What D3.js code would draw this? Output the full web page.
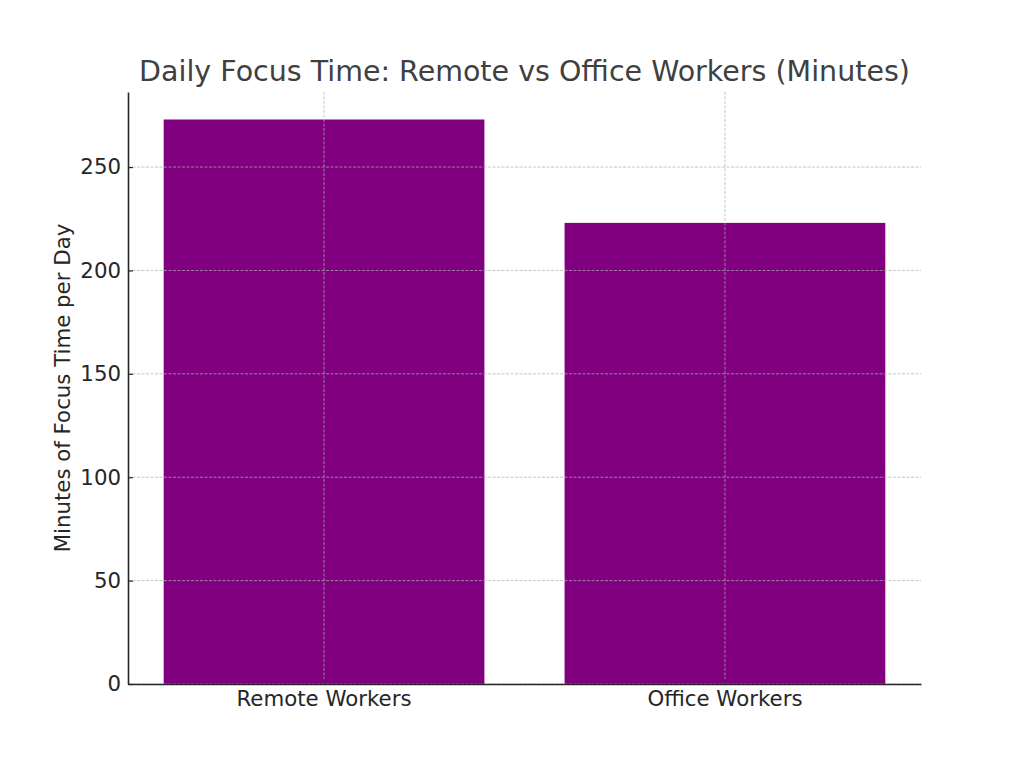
<!DOCTYPE html>
<html>
<head>
<meta charset="utf-8">
<script src="https://cdn.jsdelivr.net/npm/d3@7"></script>
<style>
  body { margin: 0; background: #fff; }
  text { font-family: "DejaVu Sans", sans-serif; }
</style>
</head>
<body>
<div id="chart"></div>
<script>
// categories and values
var categories = ["Remote Workers", "Office Workers"];
var focusMinutes = [273, 223];
var yTicks = [0, 50, 100, 150, 200, 250];

var margin = {top: 92, right: 103, bottom: 84, left: 128},
    width = 1024 - margin.left - margin.right,
    height = 768 - margin.top - margin.bottom;

var svg = d3.select("#chart")
  .append("svg")
  .attr("width", 1024)
  .attr("height", 768)
  .append("g")
  .attr("transform", "translate(" + margin.left + "," + margin.top + ")");

// x scale
var xScale = d3.scaleBand()
  .domain(categories)
  .range([0, width])
  .paddingInner(0.2)
  .paddingOuter(0.089);

// y scale
var yScale = d3.scaleLinear()
  .domain([0, 286.3])
  .range([height, 0]);

// bars
svg.append("g")
  .selectAll("rect")
  .data(categories)
  .enter()
  .append("rect")
    .attr("x", function (d) { return xScale(d); })
    .attr("y", function (d, i) { return yScale(focusMinutes[i]); })
    .attr("width", xScale.bandwidth())
    .attr("height", function (d, i) { return height - yScale(focusMinutes[i]); })
    .attr("fill", "purple");

// grid lines (drawn above bars like the original)
var grid = svg.append("g").attr("class", "grid");
grid.selectAll(".hgrid")
  .data(yTicks)
  .enter()
  .append("line")
    .attr("x1", 0)
    .attr("x2", width)
    .attr("y1", d => yScale(d))
    .attr("y2", d => yScale(d))
    .attr("stroke", "#b0b0b0")
    .attr("stroke-opacity", 0.8)
    .attr("stroke-width", 0.9)
    .attr("stroke-dasharray", "3,1.5");
grid.selectAll(".vgrid")
  .data(categories)
  .enter()
  .append("line")
    .attr("x1", d => xScale(d) + xScale.bandwidth() / 2)
    .attr("x2", d => xScale(d) + xScale.bandwidth() / 2)
    .attr("y1", 0)
    .attr("y2", height)
    .attr("stroke", "#b0b0b0")
    .attr("stroke-opacity", 0.8)
    .attr("stroke-width", 0.9)
    .attr("stroke-dasharray", "3,1.5");

// axes
var xAxis = svg.append("g")
  .attr("transform", "translate(0," + height + ")")
  .call(d3.axisBottom(xScale).tickSizeInner(-5).tickSizeOuter(0).tickPadding(7));

var yAxis = svg.append("g")
  .call(d3.axisLeft(yScale).tickValues(yTicks).tickSizeInner(-5).tickSizeOuter(0).tickPadding(7));

[xAxis, yAxis].forEach(function (ax) {
  ax.select(".domain").attr("stroke", "#262626").attr("stroke-width", 1.6);
  ax.selectAll(".tick line").attr("stroke", "#262626").attr("stroke-width", 1.2);
  ax.selectAll(".tick text")
    .attr("fill", "#262626")
    .attr("font-size", 21.3)
    .attr("font-family", "DejaVu Sans, sans-serif");
});
xAxis.selectAll(".tick text").attr("dy", "0.71em");

// axis title
svg.append("text")
  .attr("transform", "rotate(-90)")
  .attr("x", -height / 2)
  .attr("y", -58)
  .attr("text-anchor", "middle")
  .attr("fill", "#262626")
  .attr("font-size", 21.3)
  .text("Minutes of Focus Time per Day");

// chart title
svg.append("text")
  .attr("x", width / 2)
  .attr("y", -11)
  .attr("text-anchor", "middle")
  .attr("fill", "#404040")
  .attr("font-size", 28.5)
  .text("Daily Focus Time: Remote vs Office Workers (Minutes)");
</script>
</body>
</html>
